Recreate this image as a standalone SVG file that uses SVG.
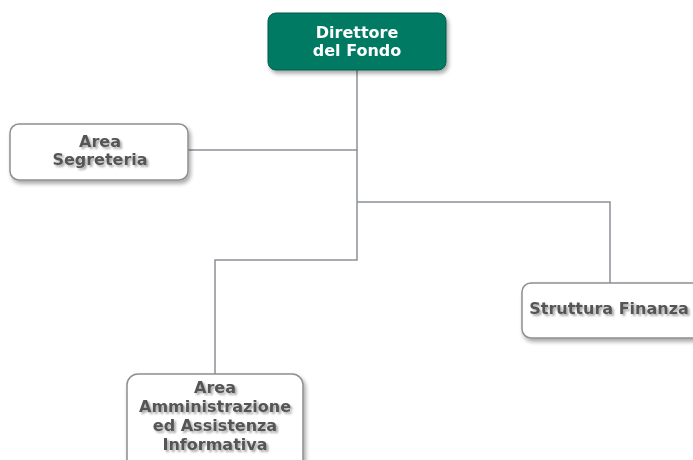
<svg xmlns="http://www.w3.org/2000/svg" width="693" height="460" viewBox="0 0 693 460">
<defs>
<filter id="sh" x="-10%" y="-10%" width="125%" height="130%">
<feGaussianBlur in="SourceAlpha" stdDeviation="2"/>
<feOffset dx="2" dy="3" result="b"/>
<feComponentTransfer><feFuncA type="linear" slope="0.35"/></feComponentTransfer>
<feMerge><feMergeNode/><feMergeNode in="SourceGraphic"/></feMerge>
</filter>
<filter id="tsh" x="-10%" y="-20%" width="125%" height="150%">
<feGaussianBlur in="SourceAlpha" stdDeviation="1.2"/>
<feOffset dx="1.5" dy="2"/>
<feComponentTransfer><feFuncA type="linear" slope="0.35"/></feComponentTransfer>
<feMerge><feMergeNode/><feMergeNode in="SourceGraphic"/></feMerge>
</filter>
</defs>
<style>
.box{fill:#ffffff;stroke:#8c8f93;stroke-width:1.5}
.top{fill:#017a62;stroke:#0a5c4b;stroke-width:1}
.t{font-family:"DejaVu Sans","Liberation Sans",Arial,sans-serif;font-weight:bold;font-size:16px;text-anchor:middle}
.g{fill:#555555}
.w{fill:#ffffff}
.c{fill:none;stroke:#8c9096;stroke-width:1.5}
</style>
<rect width="693" height="460" fill="#ffffff"/>
<g id="connectors">
<polyline class="c" points="357,70 357,150 188,150"/>
<polyline class="c" points="357,150 357,260 215,260 215,374"/>
<polyline class="c" points="357,202 610,202 610,283"/>
</g>
<g id="direttore" filter="url(#sh)">
<rect class="top" x="268" y="13" width="178" height="57" rx="8"/>
<text class="t w" x="357" y="38">Direttore</text>
<text class="t w" x="357" y="56">del Fondo</text>
</g>
<g id="segreteria">
<rect class="box" x="10" y="124" width="178" height="56" rx="9" filter="url(#sh)"/>
<g filter="url(#tsh)">
<text class="t g" x="100" y="147">Area</text>
<text class="t g" x="100" y="165">Segreteria</text>
</g>
</g>
<g id="finanza">
<rect class="box" x="522" y="283" width="185" height="55" rx="9" filter="url(#sh)"/>
<g filter="url(#tsh)">
<text class="t g" x="609" y="314">Struttura Finanza</text>
</g>
</g>
<g id="amministrazione">
<rect class="box" x="127" y="374" width="176" height="100" rx="11" filter="url(#sh)"/>
<g filter="url(#tsh)">
<text class="t g" x="215" y="393">Area</text>
<text class="t g" x="215" y="412">Amministrazione</text>
<text class="t g" x="215" y="431">ed Assistenza</text>
<text class="t g" x="215" y="450">Informativa</text>
</g>
</g>
</svg>
